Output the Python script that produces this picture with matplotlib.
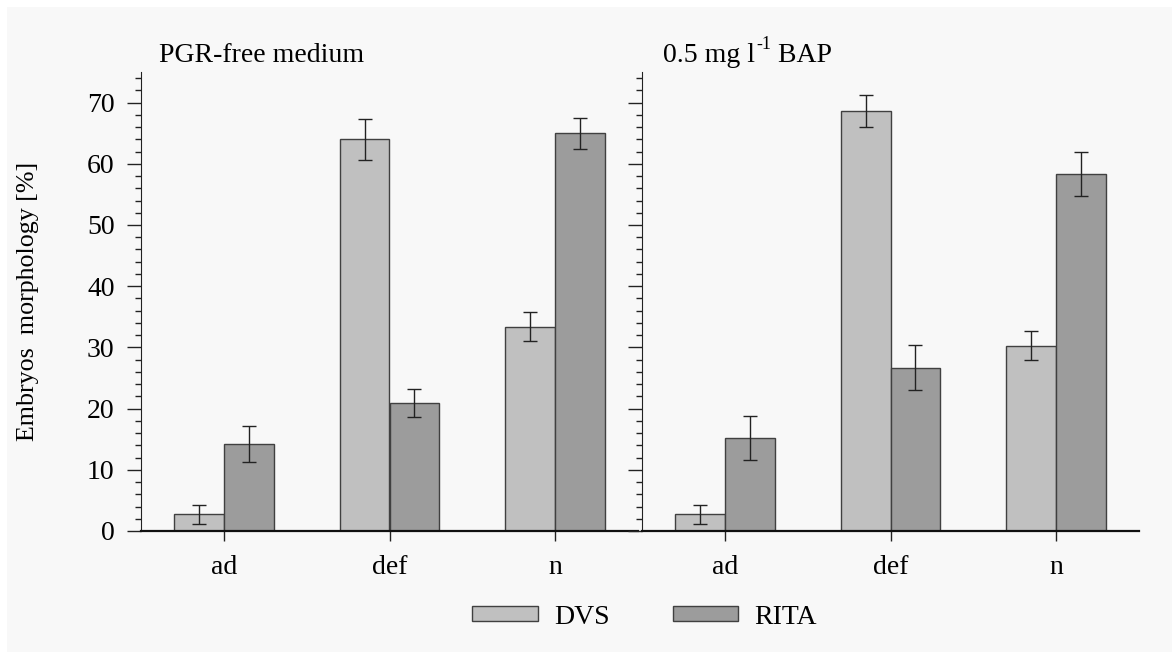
import matplotlib
matplotlib.use("Agg")
import matplotlib.pyplot as plt
import numpy as np
from matplotlib.patches import Rectangle, Patch
from matplotlib.transforms import offset_copy

categories = ["ad", "def", "n"]
panel_titles = ["PGR-free medium", "0.5 mg l", "-1", " BAP"]
series = ["DVS", "RITA"]

dvs_pgr = [2.7, 64.0, 33.4]
dvs_pgr_err = [1.5, 3.3, 2.4]
rita_pgr = [14.2, 20.9, 65.0]
rita_pgr_err = [3.0, 2.3, 2.5]

dvs_bap = [2.7, 68.6, 30.3]
dvs_bap_err = [1.5, 2.6, 2.4]
rita_bap = [15.2, 26.7, 58.3]
rita_bap_err = [3.6, 3.65, 3.6]

colors = ["#c0c0c0", "#9c9c9c"]
edge = "#404040"

plt.rcParams['font.family'] = ['Liberation Serif', 'DejaVu Serif']
FS = 20

fig = plt.figure(figsize=(11.72, 6.52), dpi=100)
fig.patch.set_facecolor("white")
fig.patches.append(Rectangle((7/1172, 0), 1, 1 - 7/652, transform=fig.transFigure,
                             facecolor="#f8f8f8", edgecolor="none", zorder=-10))

W, H = 1172, 652
bottom = 1 - 531/H
height = (531 - 72)/H
ax1 = fig.add_axes([141/W, bottom, (638-141)/W, height])
ax2 = fig.add_axes([642/W, bottom, (1139-642)/W, height])

data = [(dvs_pgr, dvs_pgr_err, rita_pgr, rita_pgr_err),
        (dvs_bap, dvs_bap_err, rita_bap, rita_bap_err)]

x = np.arange(len(categories))
bw = 0.30
for i, (ax, d) in enumerate(zip([ax1, ax2], data)):
    ax.set_facecolor("none")
    dv, dve, rv, rve = d
    ax.bar(x - bw/2, dv, bw, color=colors[0], edgecolor=edge, linewidth=1.0, zorder=2)
    ax.bar(x + bw/2, rv, bw, color=colors[1], edgecolor=edge, linewidth=1.0, zorder=2)
    ax.errorbar(x - bw/2, dv, yerr=dve, fmt="none", ecolor="#222222", elinewidth=1.0,
                capsize=5, capthick=1.0, zorder=3)
    ax.errorbar(x + bw/2, rv, yerr=rve, fmt="none", ecolor="#222222", elinewidth=1.0,
                capsize=5, capthick=1.0, zorder=3)
    ax.set_xlim(-0.5, 2.5)
    ax.set_ylim(0, 75)
    ax.set_xticks(x)
    ax.set_xticklabels(categories, fontsize=FS)
    ax.set_yticks(np.arange(0, 71, 10))
    ax.set_yticks(np.arange(0, 75, 2), minor=True)
    for s in ["top", "right"]:
        ax.spines[s].set_visible(False)
    ax.spines["left"].set_color("#222222")
    ax.spines["bottom"].set_color("#111111")
    ax.spines["bottom"].set_linewidth(1.6)
    ax.tick_params(axis="y", which="major", direction="out", length=10, width=1, color="#222222",
                   labelsize=FS, pad=9)
    ax.tick_params(axis="y", which="minor", direction="out", length=4.5, width=1, color="#222222")
    ax.tick_params(axis="x", which="major", direction="out", length=7, width=1, color="#222222",
                   labelsize=FS, pad=10)

ax2.tick_params(axis="y", which="both", labelleft=False)
ax1.set_ylabel("Embryos  morphology [%]", fontsize=18.7)
ax1.yaxis.set_label_coords(-0.206, 0.5)

ty = (531 - 62) / 459
ax1.text(0.0362, ty, panel_titles[0], transform=ax1.transAxes, fontsize=FS,
         ha="left", va="baseline")
t1 = ax2.text(0.0423, ty, panel_titles[1], transform=ax2.transAxes, fontsize=FS,
              ha="left", va="baseline")
fig.canvas.draw()
r = fig.canvas.get_renderer()
bb = t1.get_window_extent(r)
axbb = ax2.get_window_extent(r)
xs = (bb.x1 + 1 - axbb.x0) / axbb.width
t2 = ax2.text(xs, ty, panel_titles[2], transform=offset_copy(ax2.transAxes, fig=fig, y=9, units="points"),
              fontsize=FS*0.65, ha="left", va="baseline")
bb2 = t2.get_window_extent(r)
xs2 = (bb2.x1 - axbb.x0) / axbb.width
ax2.text(xs2, ty, panel_titles[3], transform=ax2.transAxes, fontsize=FS,
         ha="left", va="baseline")

handles = [Patch(facecolor=colors[0], edgecolor=edge), Patch(facecolor=colors[1], edgecolor=edge)]
fig.legend(handles, series, loc="center", bbox_to_anchor=(644.5/W, 1 - 617/H), ncol=2,
           frameon=False, fontsize=FS, handlelength=2.37, handleheight=0.47,
           handletextpad=0.58, columnspacing=2.27)

fig.savefig("out.png", dpi=100, facecolor=fig.get_facecolor())
